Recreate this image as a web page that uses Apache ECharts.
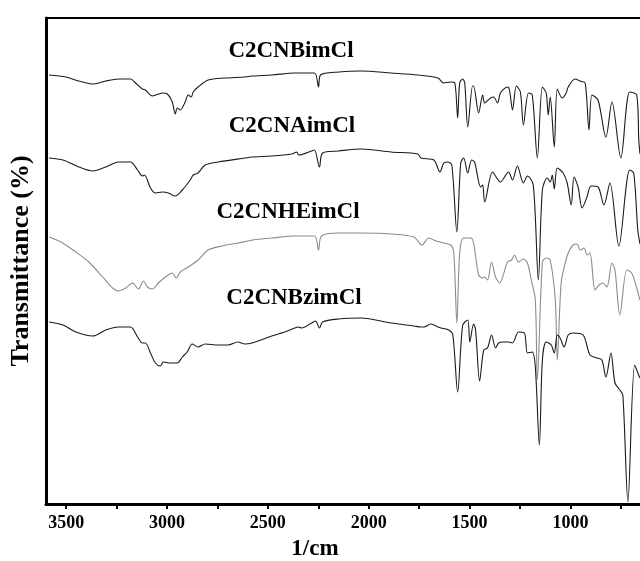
<!DOCTYPE html>
<html>
<head>
<meta charset="utf-8">
<script src="https://cdn.jsdelivr.net/npm/echarts@6/dist/echarts.min.js"></script>
<style>
  html, body { margin: 0; padding: 0; background: #fff; }
  #chart { width: 640px; height: 561px; }
</style>
</head>
<body>
<div id="chart"></div>
<script>
// ---- 数据 (wavenumber, transmittance a.u.) ----
var names = ['C2CNBimCl', 'C2CNAimCl', 'C2CNHEimCl', 'C2CNBzimCl']
var colors = ['#1a1a1a', '#1a1a1a', '#8c8c8c', '#1a1a1a']

var bim = [[3585,85.8],[3501,85.4],[3437,84.6],[3363,84.0],[3304,84.6],[3240,85.0],[3181,85.0],[3156,84.2],[3122,83.0],[3107,82.8],[3072,81.6],[3023,82.2],[2998,82.0],[2974,80.4],[2959,78.0],[2949,79.2],[2934,78.8],[2910,80.4],[2895,81.8],[2880,81.4],[2870,82.4],[2846,83.4],[2796,84.8],[2712,85.2],[2614,85.4],[2579,85.6],[2481,85.8],[2367,86.2],[2269,86.2],[2249,83.4],[2239,85.8],[2150,86.4],[2037,86.6],[1889,86.2],[1756,85.8],[1657,85.2],[1628,84.2],[1593,84.4],[1573,84.2],[1559,77.2],[1549,84.2],[1534,85.0],[1524,84.2],[1509,75.4],[1485,83.6],[1480,83.6],[1455,78.2],[1435,81.8],[1425,80.2],[1396,81.2],[1381,81.4],[1361,80.2],[1347,82.2],[1312,83.4],[1302,82.8],[1287,78.8],[1268,83.6],[1248,82.4],[1233,75.8],[1208,82.2],[1189,81.8],[1164,69.2],[1139,83.4],[1120,82.2],[1110,77.8],[1100,81.4],[1080,71.4],[1065,83.0],[1041,81.2],[1021,82.2],[1011,83.4],[977,85.0],[952,84.6],[927,84.2],[908,74.8],[893,81.8],[863,80.8],[824,73.4],[794,80.4],[750,69.2],[706,82.4],[671,81.8],[661,72.8],[655,70.0]]

var aim = [[3585,69.2],[3516,68.8],[3437,67.4],[3368,66.6],[3304,67.4],[3240,68.4],[3181,68.4],[3146,66.8],[3122,65.6],[3112,65.8],[3082,63.2],[3058,62.2],[3023,62.4],[2993,62.2],[2959,61.6],[2924,62.8],[2885,64.8],[2870,65.8],[2846,66.2],[2811,67.8],[2747,68.4],[2614,69.2],[2579,69.4],[2481,69.6],[2382,70.0],[2357,70.4],[2348,69.8],[2283,70.6],[2269,70.8],[2244,67.4],[2229,70.2],[2150,70.6],[2037,71.0],[1889,70.4],[1756,70.0],[1741,69.2],[1677,68.8],[1647,66.4],[1628,68.2],[1608,68.4],[1588,67.8],[1563,54.4],[1544,68.2],[1529,69.2],[1509,66.2],[1490,68.8],[1475,68.4],[1445,63.4],[1435,63.8],[1425,60.4],[1386,66.4],[1347,64.4],[1307,66.4],[1287,64.8],[1263,67.6],[1233,64.2],[1213,65.6],[1184,63.8],[1159,44.8],[1139,62.8],[1115,65.2],[1100,64.4],[1090,65.8],[1080,63.0],[1065,67.2],[1036,66.2],[1016,64.2],[996,59.8],[982,65.4],[962,63.4],[942,59.2],[918,61.4],[898,63.6],[863,63.4],[834,59.8],[804,64.2],[760,51.6],[706,66.8],[686,66.2],[666,54.8],[655,52.0]]

var heim = [[3585,53.4],[3526,52.4],[3452,50.4],[3388,48.4],[3319,45.4],[3270,43.2],[3240,42.6],[3205,43.2],[3171,44.2],[3141,43.0],[3117,44.6],[3097,43.4],[3072,43.0],[3043,44.2],[3008,45.4],[2974,46.2],[2954,45.2],[2934,46.4],[2895,47.4],[2846,48.8],[2796,50.8],[2727,51.6],[2648,52.2],[2574,52.8],[2481,53.2],[2367,53.6],[2269,53.6],[2249,50.8],[2234,53.6],[2150,54.2],[2037,54.2],[1889,54.0],[1776,53.4],[1736,51.8],[1702,53.2],[1667,52.6],[1628,52.2],[1593,51.8],[1578,50.2],[1563,36.2],[1549,50.2],[1529,53.2],[1494,53.2],[1480,52.2],[1455,45.8],[1435,45.2],[1425,45.4],[1411,44.8],[1391,48.4],[1371,45.4],[1351,44.2],[1312,48.4],[1292,48.8],[1277,49.8],[1258,48.4],[1233,49.0],[1213,48.2],[1194,44.8],[1174,40.8],[1164,24.8],[1139,48.4],[1120,49.2],[1100,48.8],[1075,40.8],[1065,28.8],[1046,44.2],[1026,48.2],[1011,50.2],[987,51.8],[967,52.0],[952,50.8],[932,51.2],[918,49.8],[903,50.2],[878,42.8],[858,43.8],[839,44.2],[819,43.4],[794,48.2],[779,46.8],[755,37.8],[720,46.8],[696,46.2],[671,43.2],[656,40.8]]

var bzim = [[3585,36.4],[3516,35.8],[3452,34.4],[3368,33.6],[3304,34.8],[3240,35.4],[3181,35.4],[3146,33.4],[3122,32.2],[3107,32.2],[3082,30.2],[3058,28.2],[3033,27.6],[3018,28.4],[2984,28.2],[2949,28.2],[2924,29.4],[2900,30.4],[2875,32.0],[2846,31.4],[2811,32.0],[2747,31.8],[2698,31.8],[2648,32.4],[2614,32.0],[2579,32.2],[2495,33.4],[2417,34.4],[2367,35.2],[2348,35.4],[2333,35.2],[2283,36.2],[2264,36.6],[2244,35.2],[2229,36.4],[2150,37.0],[2037,37.2],[1889,36.2],[1776,35.6],[1741,35.4],[1726,35.4],[1692,36.0],[1657,35.4],[1642,35.2],[1603,34.8],[1583,33.8],[1559,22.4],[1534,35.8],[1509,36.8],[1499,32.4],[1480,36.0],[1470,34.8],[1450,24.6],[1430,30.8],[1411,31.2],[1391,33.8],[1371,31.2],[1356,32.2],[1332,32.4],[1307,32.4],[1287,32.2],[1258,34.4],[1228,34.2],[1213,30.2],[1189,30.4],[1174,27.4],[1154,11.8],[1139,28.8],[1120,32.4],[1095,31.8],[1080,30.2],[1065,33.8],[1051,33.2],[1031,31.4],[1011,33.8],[987,34.2],[937,33.8],[903,29.8],[868,29.2],[844,28.8],[824,25.4],[799,30.2],[779,24.2],[755,22.8],[740,21.8],[715,0.4],[681,27.8],[656,25.2]]

var spectra = [bim, aim, heim, bzim]

// 刻度
var tickValues = [750, 1000, 1250, 1500, 1750, 2000, 2250, 2500, 2750, 3000, 3250, 3500]
var labelValues = [1000, 1500, 2000, 2500, 3000, 3500]

// 标签位置 (像素)
var labelPos = [[291, 51], [292, 126], [288, 212], [294, 298]]

var font = '"Liberation Serif", "Times New Roman", serif'

var chart = echarts.init(document.getElementById('chart'), null, { renderer: 'canvas' })

var series = spectra.map(function (d, i) {
    return {
        name: names[i],
        type: 'line',
        data: d,
        showSymbol: false,
        smooth: 0.3,
        lineStyle: { width: 1.1, color: colors[i] },
        itemStyle: { color: colors[i] },
        z: 2
    }
})

var graphics = names.map(function (n, i) {
    return {
        type: 'text',
        x: labelPos[i][0],
        y: labelPos[i][1],
        style: {
            text: n,
            font: 'bold 23px ' + font,
            fill: '#000',
            textAlign: 'center',
            textVerticalAlign: 'middle'
        }
    }
})
graphics.push({
    type: 'text',
    x: 315,
    y: 549,
    style: {
        text: '1/cm',
        font: 'bold 23px ' + font,
        fill: '#000',
        textAlign: 'center',
        textVerticalAlign: 'middle'
    }
})

var option = {
    animation: false,
    backgroundColor: '#fff',
    grid: { left: 43, top: 18, right: 0, bottom: 57 },
    xAxis: [
        {
            type: 'value',
            inverse: true,
            min: 655,
            max: 3600,
            axisLine: { show: true, lineStyle: { color: '#000', width: 3 } },
            axisTick: {
                show: true,
                inside: false,
                length: 5,
                customValues: tickValues,
                lineStyle: { color: '#000', width: 2 }
            },
            axisLabel: {
                customValues: labelValues,
                formatter: function (v) { return String(v) },
                margin: 10,
                color: '#000',
                fontFamily: font,
                fontWeight: 'bold',
                fontSize: 18
            },
            splitLine: { show: false }
        },
        {   // 顶部边框
            type: 'value',
            position: 'top',
            inverse: true,
            min: 655,
            max: 3600,
            axisLine: { show: true, onZero: false, lineStyle: { color: '#000', width: 2 } },
            axisTick: { show: false },
            axisLabel: { show: false },
            splitLine: { show: false }
        }
    ],
    yAxis: {
        type: 'value',
        min: 0,
        max: 97.2,
        name: 'Transmittance (%)',
        nameLocation: 'middle',
        nameGap: 12,
        nameTextStyle: {
            color: '#000',
            fontFamily: font,
            fontWeight: 'bold',
            fontSize: 26
        },
        axisLine: { show: true, lineStyle: { color: '#000', width: 3 } },
        axisTick: { show: false },
        axisLabel: { show: false },
        splitLine: { show: false }
    },
    series: series,
    graphic: graphics
}

chart.setOption(option)
</script>
</body>
</html>
